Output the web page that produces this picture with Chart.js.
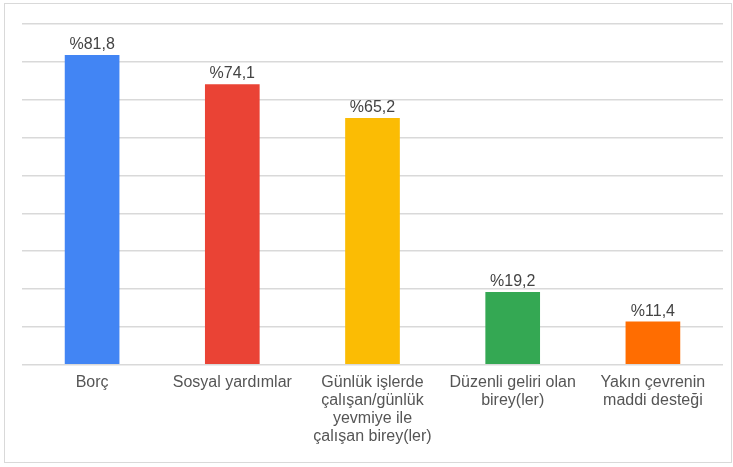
<!DOCTYPE html>
<html>
<head>
<meta charset="utf-8">
<script src="https://cdn.jsdelivr.net/npm/chart.js@4"></script>
<style>
    body { margin: 0; background: #fff; }
    #frame { position: absolute; left: 4px; top: 3px; width: 726px; height: 458px; border: 1px solid #d9d9d9; }
    #wrap { position: absolute; left: 0; top: 0; width: 733px; height: 467px; }
</style>
</head>
<body>
<div id="frame"></div>
<div id="wrap"><canvas id="chart" width="733" height="467"></canvas></div>
<script>
const categories = [
    "Borç",
    "Sosyal yardımlar",
    ["Günlük işlerde", "çalışan/günlük", "yevmiye ile", "çalışan birey(ler)"],
    ["Düzenli geliri olan", "birey(ler)"],
    ["Yakın çevrenin", "maddi desteği"]
];
const values = [81.8, 74.1, 65.2, 19.2, 11.4];
const barColors = ["#4285f4", "#ea4335", "#fbbc04", "#34a853", "#ff6d01"];

// draw "%81,8" style labels above each bar
const valueLabels = {
    id: 'valueLabels',
    afterDatasetsDraw(chart) {
        const ctx = chart.ctx;
        const meta = chart.getDatasetMeta(0);
        ctx.save();
        ctx.font = '16px "Liberation Sans", Arial, sans-serif';
        ctx.fillStyle = '#444444';
        ctx.textAlign = 'center';
        ctx.textBaseline = 'alphabetic';
        meta.data.forEach((bar, i) => {
            const txt = '%' + values[i].toFixed(1).replace('.', ',');
            ctx.fillText(txt, bar.x, bar.y - 6);
        });
        ctx.restore();
    }
};

const ctx = document.getElementById('chart').getContext('2d');
new Chart(ctx, {
    type: 'bar',
    data: {
        labels: categories,
        datasets: [{
            data: values,
            backgroundColor: barColors,
            borderWidth: 0,
            categoryPercentage: 1,
            barPercentage: 0.39
        }]
    },
    options: {
        responsive: false,
        animation: false,
        layout: { padding: { left: 22, right: 10, top: 24, bottom: 12 } },
        plugins: {
            legend: { display: false },
            tooltip: { enabled: false }
        },
        scales: {
            x: {
                grid: { display: false, drawTicks: false },
                border: { display: false },
                ticks: {
                    color: '#555555',
                    padding: 9,
                    maxRotation: 0,
                    autoSkip: false,
                    font: { family: '"Liberation Sans", Arial, sans-serif', size: 16, lineHeight: 1.13 }
                }
            },
            y: {
                min: 0,
                max: 90,
                ticks: { display: false, stepSize: 10 },
                grid: { color: '#d9d9d9', lineWidth: 1.5, drawTicks: false },
                border: { display: false }
            }
        }
    },
    plugins: [valueLabels]
});
</script>
</body>
</html>
